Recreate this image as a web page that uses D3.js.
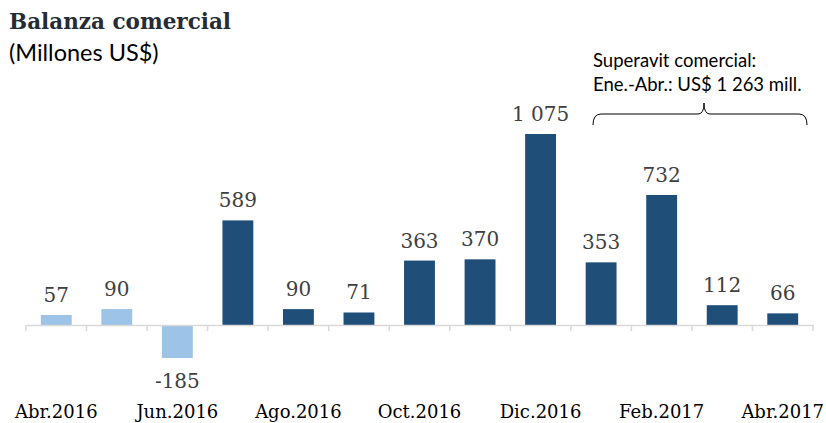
<!DOCTYPE html>
<html><head><meta charset="utf-8">
<script src="https://cdn.jsdelivr.net/npm/d3@7"></script>
<style>body{margin:0;background:#fff}svg{display:block}</style>
</head><body>
<script>
const categories = ["Abr.2016","May.2016","Jun.2016","Jul.2016","Ago.2016","Sep.2016","Oct.2016","Nov.2016","Dic.2016","Ene.2017","Feb.2017","Mar.2017","Abr.2017"];
const values = [57, 90, -185, 589, 90, 71, 363, 370, 1075, 353, 732, 112, 66];
const labels = ["57","90","-185","589","90","71","363","370","1 075","353","732","112","66"];
const lightCount = 3;
const tickLabels = ["Abr.2016","Jun.2016","Ago.2016","Oct.2016","Dic.2016","Feb.2017","Abr.2017"];

const W = 826, H = 423;
const svg = d3.select("body").append("svg").attr("width", W).attr("height", H);
const x = d3.scaleBand().domain(categories).range([26, 813]).paddingInner(0.49).paddingOuter(0.245);
const y = d3.scaleLinear().domain([-185, 1075]).range([358, 134]);

const serif = "'DejaVu Serif', serif";
const sans = "Lato, sans-serif";

svg.append("text").attr("x", 9).attr("y", 29).attr("font-family", serif).attr("font-weight", "bold")
  .attr("font-size", 21.5).attr("fill", "#262c36").text("Balanza comercial");
svg.append("text").attr("x", 9).attr("y", 61).attr("font-family", sans)
  .attr("font-size", 23.5).attr("fill", "#000").text("(Millones US$)");

svg.selectAll("rect.bar").data(values).enter().append("rect")
  .attr("x", (d, i) => x(categories[i]))
  .attr("width", x.bandwidth())
  .attr("y", d => y(Math.max(0, d)))
  .attr("height", d => Math.abs(y(d) - y(0)))
  .attr("fill", (d, i) => i < lightCount ? "#9dc3e6" : "#1f4e79");

// axis
const axis = d3.axisBottom(x).tickSize(0).tickFormat("");
const g = svg.append("g").attr("transform", `translate(0,${y(0)})`).call(axis);
g.select(".domain").attr("stroke", "#d9d9d9").attr("stroke-width", 1.5);
g.selectAll(".tick").remove();
const bounds = categories.map(c => x(c) - x.step() * x.paddingInner() / 2).concat([813]);
g.selectAll("line.tk").data(bounds).enter().append("line")
  .attr("x1", d => d).attr("x2", d => d).attr("y1", 0).attr("y2", 6)
  .attr("stroke", "#d9d9d9").attr("stroke-width", 1.5);

svg.selectAll("text.lbl").data(values).enter().append("text")
  .attr("x", (d, i) => x(categories[i]) + x.bandwidth() / 2)
  .attr("y", d => d >= 0 ? y(d) - 13 : y(d) + 30)
  .attr("text-anchor", "middle").attr("font-family", serif).attr("font-size", 20)
  .attr("fill", "#404040").text((d, i) => labels[i]);

svg.selectAll("text.xl").data(tickLabels).enter().append("text")
  .attr("x", d => x(d) + x.bandwidth() / 2).attr("y", 418)
  .attr("text-anchor", "middle").attr("font-family", serif).attr("font-size", 18)
  .attr("fill", "#000").text(d => d);

// annotation
svg.append("text").attr("x", 593).attr("y", 67).attr("font-family", sans).attr("font-size", 18.5)
  .attr("fill", "#000").text("Superavit comercial:");
svg.append("text").attr("x", 593).attr("y", 91).attr("font-family", sans).attr("font-size", 18.5)
  .attr("fill", "#000").text("Ene.-Abr.: US$ 1 263 mill.");
const bl = 593, br = 807, bm = 704, bt = 103, bb = 125, bc = 114;
svg.append("path").attr("fill", "none").attr("stroke", "#000").attr("stroke-width", 1)
  .attr("d", `M${bl},${bb} Q${bl},${bc} ${bl+8},${bc} L${bm-6},${bc} Q${bm},${bc} ${bm},${bt} Q${bm},${bc} ${bm+6},${bc} L${br-8},${bc} Q${br},${bc} ${br},${bb}`);
</script>
</body></html>
